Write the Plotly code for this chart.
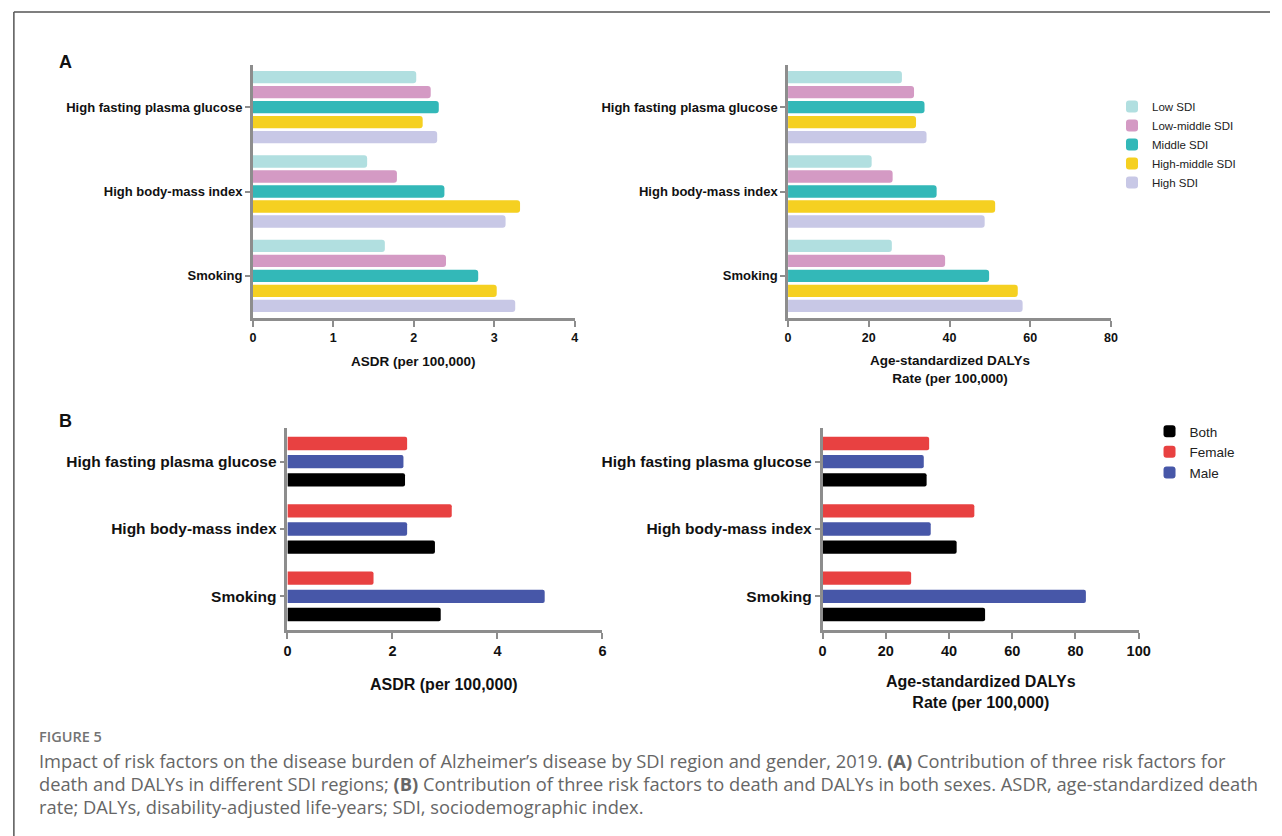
import plotly.graph_objects as go

# ---------------- data ----------------
risk_factors = ["High fasting plasma glucose", "High body-mass index", "Smoking"]

sdi_names = ["Low SDI", "Low-middle SDI", "Middle SDI", "High-middle SDI", "High SDI"]
sdi_colors = ["#b1dfe0", "#d49ac4", "#33b8b8", "#f5d021", "#c8c8e6"]

# ASDR (per 100,000) by SDI region, order = risk_factors
asdr_low_sdi = [2.03, 1.42, 1.64]
asdr_low_middle_sdi = [2.21, 1.79, 2.40]
asdr_middle_sdi = [2.31, 2.38, 2.80]
asdr_high_middle_sdi = [2.11, 3.32, 3.03]
asdr_high_sdi = [2.29, 3.14, 3.26]

# Age-standardized DALYs rate (per 100,000) by SDI region
daly_low_sdi = [28.2, 20.7, 25.7]
daly_low_middle_sdi = [31.2, 25.9, 38.9]
daly_middle_sdi = [33.8, 36.8, 49.8]
daly_high_middle_sdi = [31.7, 51.3, 56.9]
daly_high_sdi = [34.3, 48.7, 58.1]

sex_names = ["Both", "Female", "Male"]
sex_colors = ["#000000", "#e84141", "#4757a8"]

asdr_both = [2.24, 2.81, 2.92]
asdr_female = [2.28, 3.13, 1.64]
asdr_male = [2.21, 2.28, 4.90]

daly_both = [32.9, 42.4, 51.4]
daly_female = [33.7, 48.0, 28.0]
daly_male = [32.0, 34.2, 83.3]

asdr_ticks_a = [0, 1, 2, 3, 4]
daly_ticks_a = [0, 20, 40, 60, 80]
asdr_ticks_b = [0, 2, 4, 6]
daly_ticks_b = [0, 20, 40, 60, 80, 100]

# ---------------- layout helpers ----------------
W, H = 1282, 836


def fx(p):
    return p / W


def fy(p):
    return 1 - p / H


FONT = "Liberation Sans, Arial, sans-serif"
AX = "#8d8d8d"

fig = go.Figure()

# Panel A bars
sdi_asdr = [asdr_low_sdi, asdr_low_middle_sdi, asdr_middle_sdi, asdr_high_middle_sdi, asdr_high_sdi]
sdi_daly = [daly_low_sdi, daly_low_middle_sdi, daly_middle_sdi, daly_high_middle_sdi, daly_high_sdi]
pitch_a, width_a = 0.178, 0.146
start_a = -(4 * pitch_a + width_a) / 2
for i, name in enumerate(sdi_names):
    for vals, xa, ya, show in [(sdi_asdr[i], "x", "y", True), (sdi_daly[i], "x2", "y2", False)]:
        fig.add_trace(go.Bar(
            x=vals, y=risk_factors, orientation="h", name=name,
            marker=dict(color=sdi_colors[i], line=dict(width=0), cornerradius=3),
            offset=start_a + i * pitch_a, width=width_a,
            xaxis=xa, yaxis=ya, legend="legend", showlegend=show,
        ))

# Panel B bars (legend order Both, Female, Male; drawn Female top, Male, Both bottom)
sex_asdr = [asdr_both, asdr_female, asdr_male]
sex_daly = [daly_both, daly_female, daly_male]
slot_b = [2, 0, 1]
pitch_b, width_b = 0.27, 0.198
start_b = -(2 * pitch_b + width_b) / 2
for i, name in enumerate(sex_names):
    for vals, xa, ya, show in [(sex_asdr[i], "x3", "y3", True), (sex_daly[i], "x4", "y4", False)]:
        fig.add_trace(go.Bar(
            x=vals, y=risk_factors, orientation="h", name=name,
            marker=dict(color=sex_colors[i], line=dict(width=0), cornerradius=2),
            offset=start_b + slot_b[i] * pitch_b, width=width_b,
            xaxis=xa, yaxis=ya, legend="legend2", showlegend=show,
        ))


def xax(domain, rng, ticks, fsize, anchor):
    return dict(domain=domain, range=rng, tickvals=ticks, showline=True, linecolor=AX,
                linewidth=2.6, ticks="outside", ticklen=6, tickwidth=2.4, tickcolor=AX,
                showgrid=False, zeroline=False, anchor=anchor,
                tickfont=dict(family=FONT, size=fsize, color="#111", weight="bold"))


def yax(domain, fsize, anchor):
    return dict(domain=domain, type="category", categoryarray=risk_factors,
                categoryorder="array", range=[2.5, -0.5], showline=True, linecolor=AX,
                linewidth=2.6, ticks="outside", ticklen=5, tickwidth=2.2, tickcolor=AX,
                showgrid=False, zeroline=False, anchor=anchor,
                tickfont=dict(family=FONT, size=fsize, color="#111", weight="bold"))


ya_dom = [fy(318), fy(65)]
yb_dom = [fy(630), fy(428)]

fig.update_layout(
    width=W, height=H, autosize=False,
    margin=dict(l=0, r=0, t=0, b=0),
    paper_bgcolor="white", plot_bgcolor="white",
    barmode="overlay",
    font=dict(family=FONT, color="#111"),
    xaxis=xax([fx(252), fx(578)], [0, 4], asdr_ticks_a, 12.5, "y"),
    yaxis=yax(ya_dom, 13, "x"),
    xaxis2=xax([fx(794), fx(1121)], [0, 80], daly_ticks_a, 12.5, "y2"),
    yaxis2=yax(ya_dom, 13, "x2"),
    xaxis3=xax([fx(287), fx(606)], [0, 6], asdr_ticks_b, 14.5, "y3"),
    yaxis3=yax(yb_dom, 15.5, "x3"),
    xaxis4=xax([fx(829), fx(1149)], [0, 100], daly_ticks_b, 14.5, "y4"),
    yaxis4=yax(yb_dom, 15.5, "x4"),
    legend=dict(x=fx(1122), y=fy(92), xanchor="left", yanchor="top",
                font=dict(family=FONT, size=11.5, color="#222"),
                bgcolor="rgba(0,0,0,0)", tracegroupgap=0, itemwidth=30,
                traceorder="normal"),
    legend2=dict(x=fx(1160), y=fy(416), xanchor="left", yanchor="top",
                 font=dict(family=FONT, size=13.5, color="#222"),
                 bgcolor="rgba(0,0,0,0)", tracegroupgap=0, itemwidth=30,
                 traceorder="normal"),
)

ann = []


def text(x, y, t, size, weight="bold", xanchor="center", color="#111", family=FONT):
    ann.append(dict(x=fx(x), y=fy(y), xref="paper", yref="paper", text=t, showarrow=False,
                    xanchor=xanchor, yanchor="middle", align="center",
                    font=dict(family=family, size=size, color=color, weight=weight)))


text(62, 62, "A", 18)
text(62, 421, "B", 18)
text(415, 361, "ASDR (per 100,000)", 13.5)
text(958, 369, "Age-standardized DALYs<br>Rate (per 100,000)", 13.5)
text(446, 684, "ASDR (per 100,000)", 16)
text(989, 692, "Age-standardized DALYs<br>Rate (per 100,000)", 16)

CAP = "Open Sans, sans-serif"
text(33, 736, "FIGURE 5", 14.5, weight=600, xanchor="left", color="#737373", family=CAP)
cap_lines = [
    "Impact of risk factors on the disease burden of Alzheimer\u2019s disease by SDI region and gender, 2019. <b>(A)</b> Contribution of three risk factors for",
    "death and DALYs in different SDI regions; <b>(B)</b> Contribution of three risk factors to death and DALYs in both sexes. ASDR, age-standardized death",
    "rate; DALYs, disability-adjusted life-years; SDI, sociodemographic index.",
]
for k, line in enumerate(cap_lines):
    text(33, 760 + 23 * k, line, 18.3, weight="normal", xanchor="left", color="#666666", family=CAP)

fig.update_layout(annotations=ann)

fig.update_layout(shapes=[
    dict(type="line", xref="paper", yref="paper", x0=fx(10), x1=1, y0=fy(12), y1=fy(12),
         line=dict(color="#555", width=1.5)),
    dict(type="line", xref="paper", yref="paper", x0=fx(10), x1=fx(10), y0=fy(12), y1=0,
         line=dict(color="#555", width=1.5)),
])

fig.write_html(
    "out.html",
    config={"displayModeBar": False},
    post_script="document.body.style.margin='0px';document.body.style.padding='0px';document.body.style.overflow='hidden';",
)
